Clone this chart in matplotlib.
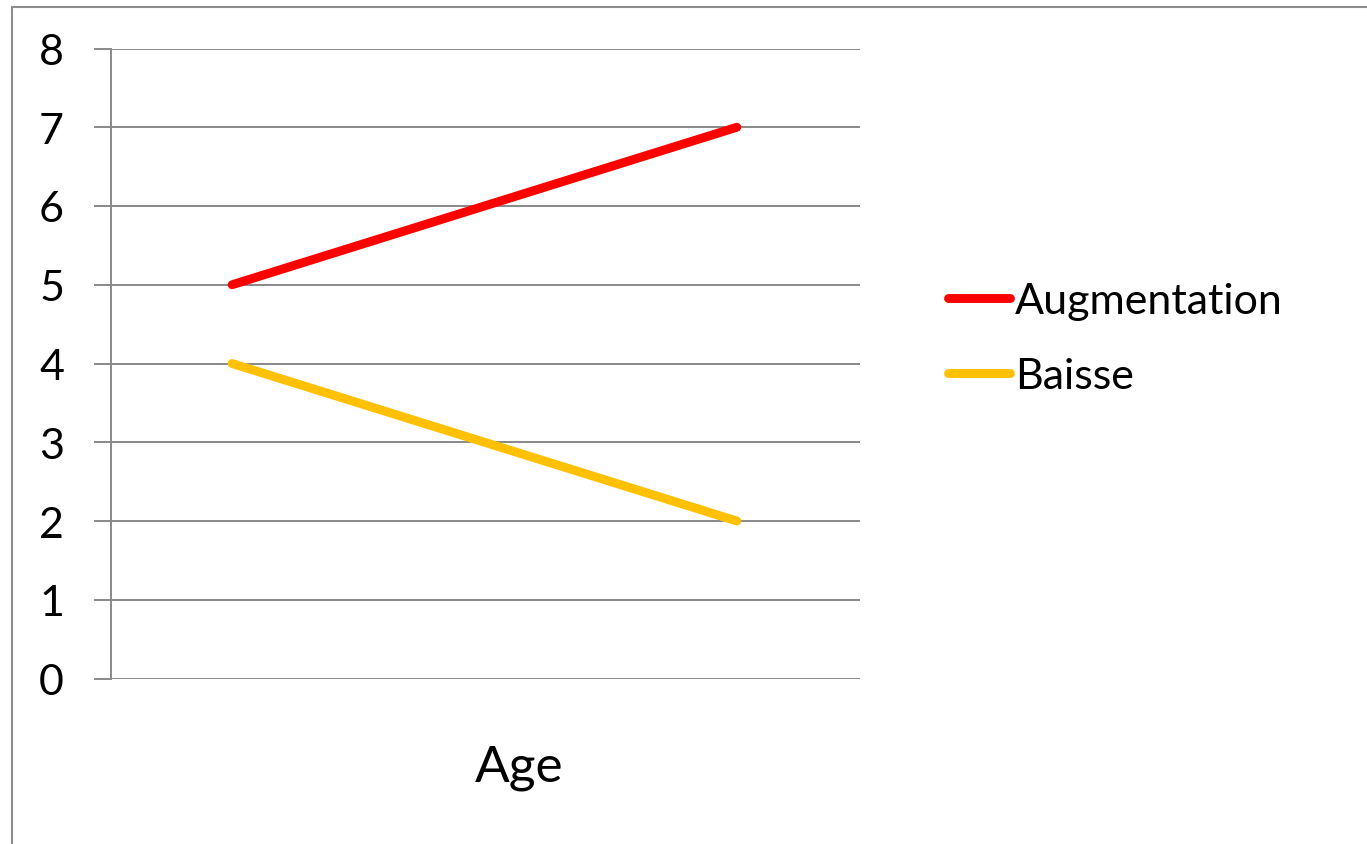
import matplotlib
matplotlib.use("Agg")
import matplotlib.pyplot as plt
from matplotlib.patches import Rectangle

# Data
positions = [0, 1]
augmentation = [5, 7]
baisse = [4, 2]
series_labels = ["Augmentation", "Baisse"]
y_ticks = [0, 1, 2, 3, 4, 5, 6, 7, 8]
category_label = "Age"

W, H = 1367, 845
DPI = 100
plt.rcParams["font.family"] = ["Lato", "DejaVu Sans"]

fig = plt.figure(figsize=(W / DPI, H / DPI), dpi=DPI)
fig.patch.set_facecolor("white")

# chart-area frame (only left and top edges fall inside the canvas)
frame = Rectangle((12 / W, -0.05), 1.2, 1 - 8 / H + 0.05, transform=fig.transFigure,
                  fill=False, edgecolor="#8c8c8c", linewidth=1.5)
fig.patches.append(frame)

left, right = 111 / W, 860 / W
bottom, top = 1 - 679.5 / H, 1 - 49.5 / H
ax = fig.add_axes([left, bottom, right - left, top - bottom])

grid_color = "#898989"
ax.set_ylim(0, 8)
ax.set_xlim(-0.24, 1.244)
ax.set_yticks(y_ticks)
ax.set_xticks([])
ax.yaxis.grid(True, color=grid_color, linewidth=1.4)
ax.set_axisbelow(True)
for s in ["top", "right", "bottom"]:
    ax.spines[s].set_visible(False)
ax.spines["left"].set_color(grid_color)
ax.spines["left"].set_linewidth(1.4)
ax.tick_params(axis="y", direction="out", length=12.2, width=1.4, color=grid_color,
               pad=21.6, labelsize=31, labelcolor="black")

l1, = ax.plot(positions, augmentation, color="#FF0000", linewidth=6.4,
              solid_capstyle="round", label=series_labels[0], clip_on=False)
l2, = ax.plot(positions, baisse, color="#FFC000", linewidth=6.4,
              solid_capstyle="round", label=series_labels[1], clip_on=False)

leg = fig.legend(handles=[l1, l2], loc="center left",
                 bbox_to_anchor=(948 / W, 1 - 339.5 / H), frameon=False,
                 fontsize=31, handlelength=1.44, handletextpad=0.12,
                 labelspacing=0.85, borderpad=0, borderaxespad=0)

fig.text(519 / W, 1 - 782 / H, category_label, ha="center", va="baseline",
         fontsize=37, color="black")

fig.savefig("out.png", dpi=DPI, facecolor="white")
